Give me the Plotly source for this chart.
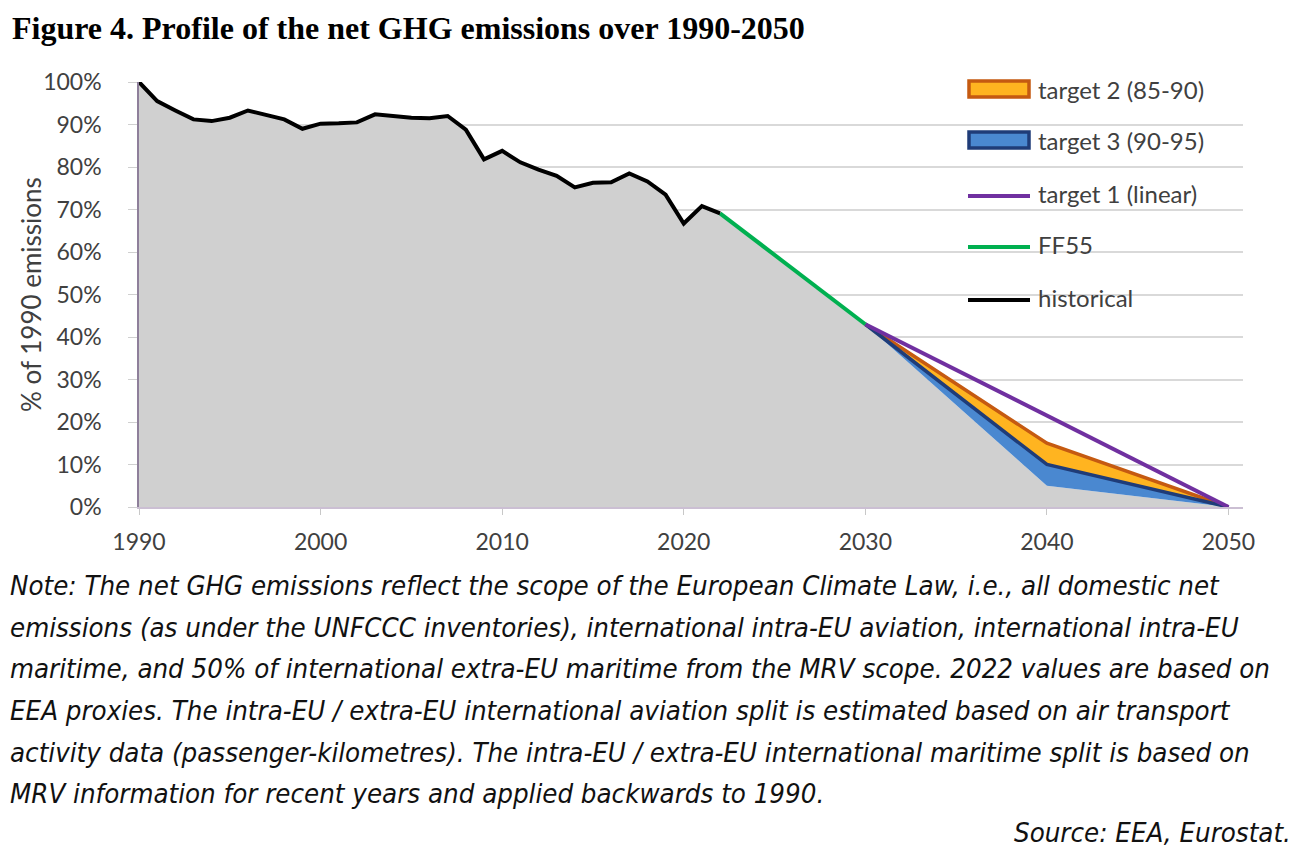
import plotly.graph_objects as go

# ---------------- data ----------------
hist_years = list(range(1990, 2023))
hist_values = [100.0, 95.5, 93.3, 91.2, 90.8, 91.6, 93.3, 92.2, 91.2, 89.0,
               90.2, 90.3, 90.5, 92.4, 92.0, 91.6, 91.5, 92.0, 88.8, 81.8,
               83.8, 81.1, 79.4, 77.9, 75.2, 76.3, 76.4, 78.5, 76.6, 73.5,
               66.7, 70.8, 69.1]

ff55_years = [2022, 2030]
ff55_values = [69.1, 43.0]

proj_years = [2030, 2040, 2050]
target1_values = [43.0, 21.5, 0.0]
target2_upper = [43.0, 15.0, 0.0]
target2_lower = [43.0, 10.0, 0.0]
target3_upper = [43.0, 10.0, 0.0]
target3_lower = [43.0, 5.0, 0.0]

x_ticks = [1990, 2000, 2010, 2020, 2030, 2040, 2050]
y_ticks = [0, 10, 20, 30, 40, 50, 60, 70, 80, 90, 100]
y_tick_text = [f"{v}%" for v in y_ticks]

legend_labels = ["target 2 (85-90)", "target 3 (90-95)", "target 1 (linear)", "FF55", "historical"]

note_lines = [
    "Note: The net GHG emissions reflect the scope of the European Climate Law, i.e., all domestic net",
    "emissions (as under the UNFCCC inventories), international intra-EU aviation, international intra-EU",
    "maritime, and 50% of international extra-EU maritime from the MRV scope. 2022 values are based on",
    "EEA proxies. The intra-EU / extra-EU international aviation split is estimated based on air transport",
    "activity data (passenger-kilometres). The intra-EU / extra-EU international maritime split is based on",
    "MRV information for recent years and applied backwards to 1990.",
]
source_text = "Source: EEA, Eurostat."
title_text = "Figure 4. Profile of the net GHG emissions over 1990-2050"

# ---------------- styles ----------------
C_GREY = "#D0D0D0"
C_BLACK = "#000000"
C_GREEN = "#00B050"
C_PURPLE = "#7030A0"
C_ORANGE_FILL = "#FFB420"
C_ORANGE_LINE = "#C55A11"
C_BLUE_FILL = "#4A88D0"
C_BLUE_LINE = "#1F3C78"
TICK_FONT = dict(family="Lato, Open Sans, sans-serif", size=23, color="#404040")
NOTE_FONT = dict(family="Liberation Sans Narrow, DejaVu Sans Condensed, sans-serif",
                 size=27.4, color="#111111", style="italic")

# page body has an 8px margin: build the figure so that the page matches the reference
OFF = 8
W, H = 1299 - OFF, 852 - OFF
ML = 139 - OFF
MT = 82 - OFF
MR = W - (1243 - OFF)
MB = H - (507 - OFF)
PW, PH = W - ML - MR, H - MT - MB


def px_x(px):
    return (px - OFF - ML) / PW


def px_y(py):
    return (H - MB - (py - OFF)) / PH


fig = go.Figure()

# grey area under the whole profile
area_x = hist_years + ff55_years[1:] + proj_years[1:]
area_y = hist_values + ff55_values[1:] + target3_lower[1:]
fig.add_trace(go.Scatter(x=area_x, y=area_y, mode="lines", fill="tozeroy",
                         fillcolor=C_GREY, line=dict(width=0, color=C_GREY),
                         showlegend=False, hoverinfo="skip"))

# target 2 band
fig.add_trace(go.Scatter(x=proj_years + proj_years[::-1],
                         y=target2_upper + target2_lower[::-1],
                         mode="lines", fill="toself", fillcolor=C_ORANGE_FILL,
                         line=dict(width=0, color=C_ORANGE_FILL), showlegend=False,
                         name=legend_labels[0]))
# target 3 band
fig.add_trace(go.Scatter(x=proj_years + proj_years[::-1],
                         y=target3_upper + target3_lower[::-1],
                         mode="lines", fill="toself", fillcolor=C_BLUE_FILL,
                         line=dict(width=0, color=C_BLUE_FILL), showlegend=False,
                         name=legend_labels[1]))
# band edges
fig.add_trace(go.Scatter(x=proj_years, y=target2_upper, mode="lines",
                         line=dict(width=3.5, color=C_ORANGE_LINE), showlegend=False,
                         cliponaxis=False, name=legend_labels[0]))
fig.add_trace(go.Scatter(x=proj_years, y=target3_upper, mode="lines",
                         line=dict(width=3.5, color=C_BLUE_LINE), showlegend=False,
                         cliponaxis=False, name=legend_labels[1]))
# target 1 linear
fig.add_trace(go.Scatter(x=proj_years, y=target1_values, mode="lines",
                         line=dict(width=4, color=C_PURPLE), showlegend=False,
                         cliponaxis=False, name=legend_labels[2]))
# FF55
fig.add_trace(go.Scatter(x=ff55_years, y=ff55_values, mode="lines",
                         line=dict(width=4, color=C_GREEN), showlegend=False,
                         cliponaxis=False, name=legend_labels[3]))
# historical
fig.add_trace(go.Scatter(x=hist_years, y=hist_values, mode="lines",
                         line=dict(width=4, color=C_BLACK), showlegend=False,
                         cliponaxis=False, name=legend_labels[4]))

# ---------------- manual legend ----------------
shapes = []
annotations = []
row_py = [89, 140, 193, 244, 297]
sym_x0, sym_x1, lab_x = 968, 1030, 1036
band_styles = [(C_ORANGE_FILL, C_ORANGE_LINE), (C_BLUE_FILL, C_BLUE_LINE)]
line_colors = [C_PURPLE, C_GREEN, C_BLACK]
for i, lab in enumerate(legend_labels):
    py = row_py[i]
    if i < 2:
        fill, edge = band_styles[i]
        shapes.append(dict(type="rect", xref="paper", yref="paper",
                           x0=px_x(sym_x0 + 1), x1=px_x(sym_x1 - 1),
                           y0=px_y(py + 8), y1=px_y(py - 8),
                           fillcolor=fill, line=dict(color=edge, width=3.5)))
    else:
        shapes.append(dict(type="line", xref="paper", yref="paper",
                           x0=px_x(sym_x0), x1=px_x(sym_x1),
                           y0=px_y(py + 3), y1=px_y(py + 3),
                           line=dict(color=line_colors[i - 2], width=4)))
    annotations.append(dict(text=lab, xref="paper", yref="paper",
                            x=px_x(lab_x), y=px_y(py), xanchor="left", yanchor="middle",
                            showarrow=False, font=dict(family="Lato, Open Sans, sans-serif",
                                                       size=24, color="#404040")))

# title
annotations.append(dict(text="<b>" + title_text + "</b>", xref="paper", yref="paper",
                        x=px_x(10), y=px_y(28), xanchor="left", yanchor="middle",
                        showarrow=False,
                        font=dict(family="Liberation Serif, Times New Roman, serif",
                                  size=32, color="#000000")))
# y-axis title
annotations.append(dict(text="% of 1990 emissions", xref="paper", yref="paper",
                        x=px_x(31), y=px_y(295), xanchor="center", yanchor="middle",
                        textangle=-90, showarrow=False,
                        font=dict(family="Lato, Open Sans, sans-serif", size=26, color="#404040")))
# note lines
note_py = [585, 627, 668, 710, 752, 793]
for line, py in zip(note_lines, note_py):
    annotations.append(dict(text=line, xref="paper", yref="paper",
                            x=px_x(8), y=px_y(py), xanchor="left", yanchor="middle",
                            showarrow=False, font=NOTE_FONT))
annotations.append(dict(text=source_text, xref="paper", yref="paper",
                        x=px_x(1293), y=px_y(832), xanchor="right", yanchor="middle",
                        showarrow=False, font=NOTE_FONT))

fig.update_layout(
    width=W, height=H,
    margin=dict(l=ML, r=MR, t=MT, b=MB, autoexpand=False),
    paper_bgcolor="white", plot_bgcolor="white",
    shapes=shapes, annotations=annotations,
    showlegend=False,
)
fig.update_xaxes(range=[1990, 2050.8], tickmode="array", tickvals=x_ticks,
                 ticktext=[str(v) for v in x_ticks], tickfont=TICK_FONT,
                 showgrid=False, zeroline=False, showline=True, linecolor="#CBBFD3",
                 linewidth=1.5, ticks="outside", ticklen=6, tickcolor="#C8C8C8",
                 ticklabelstandoff=8)
fig.update_yaxes(range=[0, 100], tickmode="array", tickvals=y_ticks,
                 ticktext=y_tick_text, tickfont=TICK_FONT,
                 showgrid=True, gridcolor="#D9D9D9", gridwidth=1.5,
                 zeroline=False, showline=True, linecolor="#8E7F9A", linewidth=1.5,
                 ticks="outside", ticklen=9, tickcolor="#D0D0D0",
                 ticklabelstandoff=22)

fig.write_html("out.html")
